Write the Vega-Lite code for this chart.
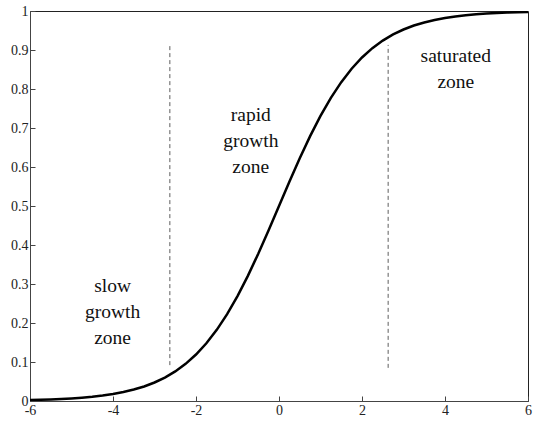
{
  "$schema": "https://vega.github.io/schema/vega-lite/v6.json",
  "width": 498,
  "height": 390,
  "autosize": {"type": "none"},
  "padding": {"left": 30, "top": 11, "right": 5, "bottom": 25},
  "background": "white",
  "config": {
    "view": {"stroke": "#222", "strokeWidth": 1},
    "font": "Liberation Serif, DejaVu Serif",
    "axis": {
      "grid": false,
      "domainColor": "#444",
      "tickColor": "#444",
      "labelFont": "Liberation Serif, DejaVu Serif",
      "labelFontSize": 14,
      "labelColor": "#222",
      "tickSize": -5,
      "labelPadding": 7,
      "title": null
    }
  },
  "datasets": {
    "curve": [
      {"x": -6, "y": 0.00247}, {"x": -5.75, "y": 0.00317}, {"x": -5.5, "y": 0.00407}, {"x": -5.25, "y": 0.00522},
      {"x": -5, "y": 0.00669}, {"x": -4.75, "y": 0.00858}, {"x": -4.5, "y": 0.01099}, {"x": -4.25, "y": 0.01406},
      {"x": -4, "y": 0.01799}, {"x": -3.75, "y": 0.02298}, {"x": -3.5, "y": 0.02931}, {"x": -3.25, "y": 0.03733},
      {"x": -3, "y": 0.04743}, {"x": -2.75, "y": 0.06006}, {"x": -2.5, "y": 0.07586}, {"x": -2.25, "y": 0.09535},
      {"x": -2, "y": 0.1192}, {"x": -1.75, "y": 0.14805}, {"x": -1.5, "y": 0.18243}, {"x": -1.25, "y": 0.2227},
      {"x": -1, "y": 0.26894}, {"x": -0.75, "y": 0.32082}, {"x": -0.5, "y": 0.37754}, {"x": -0.25, "y": 0.43782},
      {"x": 0, "y": 0.5},
      {"x": 0.25, "y": 0.56218}, {"x": 0.5, "y": 0.62246}, {"x": 0.75, "y": 0.67918}, {"x": 1, "y": 0.73106},
      {"x": 1.25, "y": 0.7773}, {"x": 1.5, "y": 0.81757}, {"x": 1.75, "y": 0.85195}, {"x": 2, "y": 0.8808},
      {"x": 2.25, "y": 0.90465}, {"x": 2.5, "y": 0.92414}, {"x": 2.75, "y": 0.93994}, {"x": 3, "y": 0.95257},
      {"x": 3.25, "y": 0.96267}, {"x": 3.5, "y": 0.97069}, {"x": 3.75, "y": 0.97702}, {"x": 4, "y": 0.98201},
      {"x": 4.25, "y": 0.98594}, {"x": 4.5, "y": 0.98901}, {"x": 4.75, "y": 0.99142}, {"x": 5, "y": 0.99331},
      {"x": 5.25, "y": 0.99478}, {"x": 5.5, "y": 0.99593}, {"x": 5.75, "y": 0.99683}, {"x": 6, "y": 0.99753}
    ],
    "dividers": [
      {"x": -2.63, "y": 0.092, "y2": 0.913},
      {"x": 2.63, "y": 0.085, "y2": 0.913}
    ],
    "labels": [
      {"x": -4.01, "y": 0.28, "label": "slow\ngrowth\nzone"},
      {"x": -0.68, "y": 0.718, "label": "rapid\ngrowth\nzone"},
      {"x": 4.26, "y": 0.87, "label": "saturated\nzone"}
    ]
  },
  "layer": [
    {
      "data": {"name": "curve"},
      "mark": {"type": "line", "color": "black", "strokeWidth": 2.5, "clip": true},
      "encoding": {
        "x": {
          "field": "x", "type": "quantitative",
          "scale": {"domain": [-6, 6], "nice": false},
          "axis": {"values": [-6, -4, -2, 0, 2, 4, 6], "labelExpr": "datum.value + ''", "labelFlush": false, "labelOverlap": false}
        },
        "y": {
          "field": "y", "type": "quantitative",
          "scale": {"domain": [0, 1], "nice": false},
          "axis": {"values": [0, 0.1, 0.2, 0.3, 0.4, 0.5, 0.6, 0.7, 0.8, 0.9, 1], "format": ".1~f", "labelFlush": false, "labelOverlap": false, "tickCount": 11}
        }
      }
    },
    {
      "data": {"name": "dividers"},
      "mark": {"type": "rule", "color": "#333", "strokeWidth": 0.8, "strokeDash": [4, 3]},
      "encoding": {
        "x": {"field": "x", "type": "quantitative"},
        "y": {"field": "y", "type": "quantitative"},
        "y2": {"field": "y2"}
      }
    },
    {
      "data": {"name": "labels"},
      "mark": {"type": "text", "font": "Liberation Serif, DejaVu Serif", "fontSize": 19.5, "lineBreak": "\n", "lineHeight": 26, "align": "center", "baseline": "alphabetic", "color": "#111"},
      "encoding": {
        "x": {"field": "x", "type": "quantitative"},
        "y": {"field": "y", "type": "quantitative"},
        "text": {"field": "label"}
      }
    }
  ]
}
